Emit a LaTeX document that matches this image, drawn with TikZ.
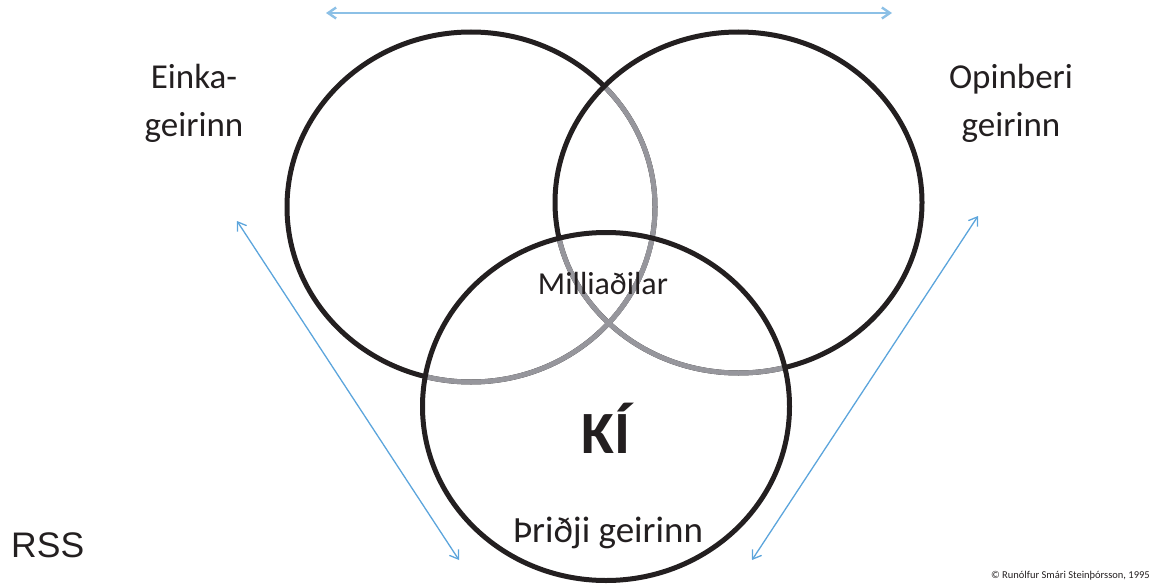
\documentclass[tikz,border=0pt]{standalone}
\usepackage{fontspec}
\setmainfont{Carlito}
\newfontfamily\rssfont{Liberation Sans}
\usetikzlibrary{arrows.meta}
\definecolor{ringblack}{RGB}{35,31,32}
\definecolor{ringgray}{RGB}{150,150,156}
\definecolor{linkblue}{RGB}{92,165,220}
\definecolor{linklight}{RGB}{140,192,230}
\newcommand{\sz}[2]{\fontsize{#1}{#2}\selectfont}

\begin{document}
\begin{tikzpicture}[x=1pt, y=-1pt,
    ring/.style={draw=ringblack, line width=5pt},
    overlap/.style={draw=ringgray, line width=5pt},
    link/.style={draw=linkblue, line width=1.3pt,
        {Straight Barb[length=8pt, width=11pt]}-{Straight Barb[length=8pt, width=11pt]}},
    label/.style={inner sep=0pt, text=ringblack}]
            \useasboundingbox (0, 0) rectangle (1158, 586);

            % ellipse radii
            \pgfmathsetmacro{\lrx}{184}
            \pgfmathsetmacro{\lry}{175}
            \pgfmathsetmacro{\rrx}{183.5}
            \pgfmathsetmacro{\rry}{170.5}
            \pgfmathsetmacro{\brx}{183.5}
            \pgfmathsetmacro{\bry}{174}

            \coordinate (L) at (471, 207);
            \coordinate (R) at (738.5, 202.5);
            \coordinate (B) at (606, 406.5);

            \draw [ring] (L) ellipse [x radius = \lrx, y radius = \lry];
            \begin{scope}
                \clip (R) ellipse [x radius = \rrx, y radius = \rry];
                \draw [overlap] (L) ellipse [x radius = \lrx, y radius = \lry];
            \end{scope}
            \draw [ring] (R) ellipse [x radius = \rrx, y radius = \rry];
            \begin{scope}
                \clip (B) ellipse [x radius = \brx, y radius = \bry];
                \draw [overlap] (L) ellipse [x radius = \lrx, y radius = \lry];
                \draw [overlap] (R) ellipse [x radius = \rrx, y radius = \rry];
            \end{scope}
            \draw [ring] (B) ellipse [x radius = \brx, y radius = \bry];

            % anchor = base is the last line of a two-line node
            \node [label, align = center, anchor = base, font = \sz{35}{48}] (einka) at (194, 136) {Einka-\\geirinn};
            \node [label, align = center, anchor = base, font = \sz{35}{48}] (opinberi) at (1011, 136) {Opinberi\\geirinn};
            \node [label, anchor = base, font = \sz{32}{38}] (milli) at (603, 294) {Milliaðilar};
            \node [label, anchor = base, font = \sz{60}{72}\bfseries] (ki) at (606, 453) {KÍ};
            \node [label, anchor = base, font = \sz{37}{44}] (thridji) at (608, 542) {Þriðji geirinn};
            \node [label, anchor = base west, font = \rssfont\sz{35.5}{42}] (rss) at (11, 557) {RSS};
            \node [label, anchor = base east, font = \sz{10.5}{12}] (copy) at (1150, 578) {© Runólfur Smári Steinþórsson, 1995};

            \coordinate (T1) at (326, 13);
            \coordinate (T2) at (892, 13);
            \coordinate (A1) at (237, 221);
            \coordinate (A2) at (459, 560);
            \coordinate (C1) at (978, 216);
            \coordinate (C2) at (752, 560);

            \draw [link, draw = linklight, line width = 2.4pt] (T1) -- (T2);
            \draw [link] (A1) -- (A2);
            \draw [link] (C1) -- (C2);
        \end{tikzpicture}
\end{document}
